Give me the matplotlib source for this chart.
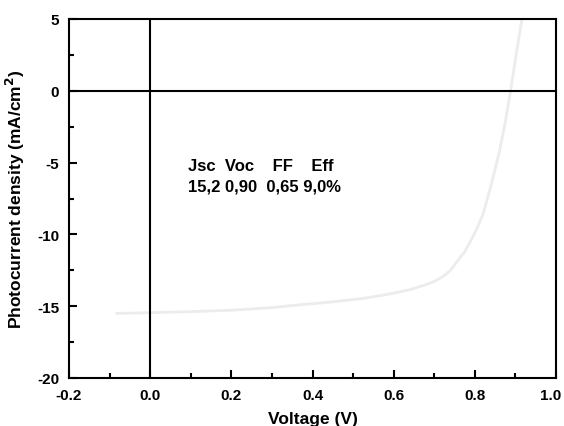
import matplotlib
matplotlib.use("Agg")
import matplotlib.pyplot as plt
import matplotlib.transforms as mtransforms
from matplotlib.ticker import MultipleLocator

voltage = [-0.082, -0.04, 0.0, 0.1, 0.2, 0.3, 0.37, 0.45, 0.526, 0.58, 0.64, 0.68, 0.706, 0.723,
           0.74, 0.756, 0.775, 0.789, 0.805, 0.82, 0.84, 0.86, 0.875, 0.887, 0.90, 0.916]
current = [-15.5, -15.48, -15.45, -15.38, -15.28, -15.1, -14.9, -14.7, -14.45, -14.2, -13.85, -13.5,
           -13.2, -12.9, -12.5, -11.9, -11.2, -10.5, -9.6, -8.6, -6.6, -4.3, -2.2, -0.2, 2.2, 5.0]

x_ticks = [-0.2, 0.0, 0.2, 0.4, 0.6, 0.8, 1.0]
y_ticks = [-20, -15, -10, -5, 0, 5]
annot_header = "Jsc  Voc    FF    Eff"
annot_values = "15,2 0,90  0,65 9,0%"

plt.rcParams['font.family'] = ['Liberation Sans', 'DejaVu Sans']
plt.rcParams['font.weight'] = 'bold'

fig = plt.figure(figsize=(5.64, 4.27), dpi=100)
ax = fig.add_axes([69/564, 1 - 379/427, (556-69)/564, (379-20)/427])

ax.plot(voltage, current, color='#ececec', lw=2)
ax.axhline(0, color='black', lw=1.5)
ax.axvline(0, color='black', lw=1.5)

ax.set_xlim(-0.2, 1.0)
ax.set_ylim(-20, 5)
ax.set_xticks(x_ticks)
ax.set_yticks(y_ticks)
ax.set_xticklabels([f"{v:.1f}" for v in x_ticks])
ax.set_yticklabels([str(v) for v in y_ticks])
ax.xaxis.set_minor_locator(MultipleLocator(0.1))
ax.yaxis.set_minor_locator(MultipleLocator(2.5))
ax.tick_params(which='major', direction='in', length=6, width=1.5, labelsize=11, pad=7)
ax.tick_params(which='minor', direction='in', length=3.5, width=1.5)
ax.tick_params(top=False, right=False, which='both')
for s in ax.spines.values():
    s.set_linewidth(1.5)

# nudge the last x tick label so it stays inside the figure
last = ax.get_xticklabels()[-1]
last.set_transform(last.get_transform() + mtransforms.ScaledTranslation(-5/100, 0, fig.dpi_scale_trans))

ax.set_xlabel("Voltage (V)", fontsize=12.5, fontweight='bold', labelpad=7)
ax.set_ylabel("Photocurrent density (mA/cm$^\\mathbf{2}$)", fontsize=12.5, fontweight='bold', labelpad=7)

ax.text(0.093, -5.2, annot_header, fontsize=12, fontweight='bold', va='center', ha='left')
ax.text(0.093, -6.65, annot_values, fontsize=12, fontweight='bold', va='center', ha='left')

fig.savefig("out.png", dpi=100)
